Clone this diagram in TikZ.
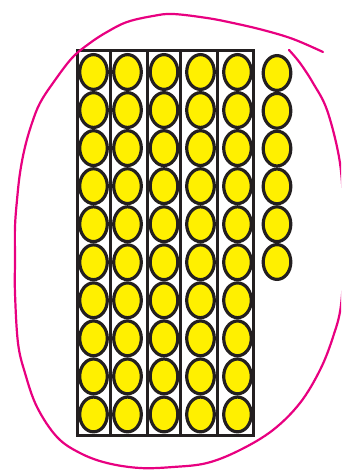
\documentclass[tikz,border=0pt]{standalone}
\definecolor{beadfill}{RGB}{255,240,0}
\definecolor{ink}{RGB}{35,31,32}
\definecolor{pen}{RGB}{232,0,128}
\begin{document}
\begin{tikzpicture}[x=1pt,y=-1pt,
  bead/.style={draw=ink, line width=3.2pt, fill=beadfill},
  frame/.style={draw=ink, line width=3pt},
  penline/.style={draw=pen, line width=2.2pt, line cap=round, line join=round}]
\useasboundingbox (0,0) rectangle (341,470);
\clip (0,0) rectangle (341,470);
% frame of ten-rods
\draw[frame] (77.5,50.5) rectangle (253.5,435.5);
\foreach \x in {110.5,147.5,180.5,217.5}
  \draw[frame] (\x,50.5) -- (\x,435.5);
% beads in the rods
\foreach \x in {93.5,127.5,164,200.5,237.5}
  \foreach \i in {0,...,9}
    \draw[bead] (\x,72+38.05*\i) ellipse (13.8pt and 17.4pt);
% loose beads
\foreach \i in {0,...,5}
  \draw[bead] (277,73+37.8*\i) ellipse (13.8pt and 17.4pt);
% hand-drawn loop
\draw[penline] plot[smooth, tension=0.6] coordinates {
  (323,52) (293,39) (263,30) (233,23) (207,18) (173,14) (153,16) (127,22)
  (107,32) (90,43) (72,58) (53,83) (40,103) (32,123) (25,147) (20,173)
  (17,200) (15,227) (15,260) (15,293) (18,343) (25,373) (37,407) (57,437)
  (80,453) (107,463) (140,468) (173,467) (207,463) (240,450) (273,430)
  (300,403) (320,370) (333,337) (341,305) (344,250) (343,200) (339,157)
  (327,110) (313,83) (300,63) (289,50)};
\end{tikzpicture}
\end{document}
